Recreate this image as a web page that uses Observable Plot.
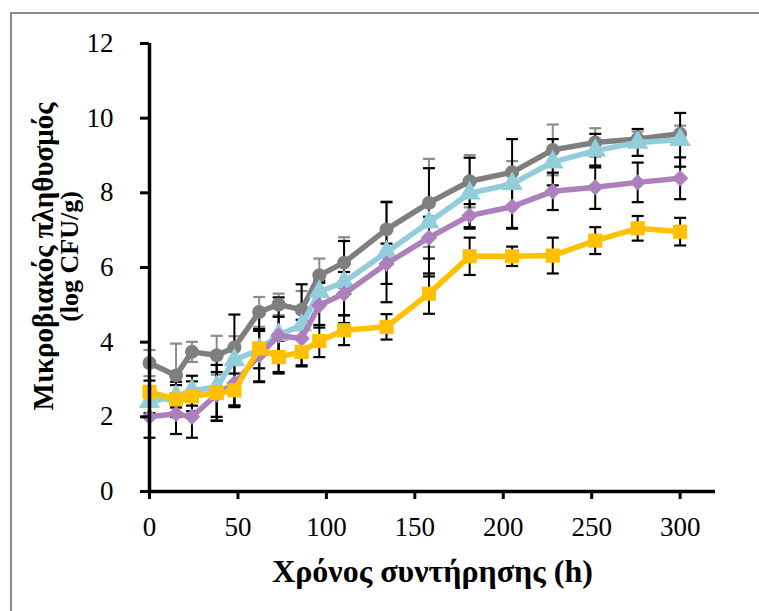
<!DOCTYPE html>
<html>
<head>
<meta charset="utf-8">
<script src="https://cdn.jsdelivr.net/npm/d3@7"></script>
<script src="https://cdn.jsdelivr.net/npm/@observablehq/plot@0.6"></script>
<style>
  html, body { margin: 0; padding: 0; background: #fff; }
  #wrap { position: relative; width: 759px; height: 611px; overflow: hidden; }
  #frame { position: absolute; left: 10px; top: 12px; width: 760px; height: 620px;
           border-top: 2px solid #8c8c8c; border-left: 2px solid #8c8c8c; pointer-events: none; }
  svg text { font-family: "Liberation Serif" !important; font-variant-numeric: normal !important; }
</style>
</head>
<body>
<div id="wrap"><div id="frame"></div></div>
<script>
// Storage time (h)
const hours = [0, 15, 24, 38, 48, 62, 73, 86, 96, 110, 134, 158, 181, 205, 228, 252, 276, 300];

// Series means (log CFU/g)
const grayMean   = [3.44, 3.11, 3.74, 3.65, 3.86, 4.81, 5.01, 4.87, 5.79, 6.13, 7.02, 7.73, 8.31, 8.55, 9.15, 9.35, 9.44, 9.58];
const blueMean   = [2.40, 2.55, 2.70, 2.80, 3.52, 3.80, 4.20, 4.45, 5.35, 5.61, 6.41, 7.21, 7.99, 8.24, 8.82, 9.13, 9.35, 9.42];
const purpleMean = [2.00, 2.08, 2.00, 2.60, 2.90, 3.65, 4.18, 4.10, 4.99, 5.30, 6.10, 6.80, 7.39, 7.63, 8.04, 8.15, 8.28, 8.39];
const yellowMean = [2.67, 2.47, 2.55, 2.64, 2.71, 3.83, 3.60, 3.74, 4.03, 4.32, 4.41, 5.30, 6.30, 6.30, 6.32, 6.72, 7.05, 6.96];

// Error bar half-lengths (±)
const grayErr   = [0.35, 0.85, 0.27, 0.52, 0.30, 0.40, 0.29, 0.50, 0.45, 0.68, 0.75, 1.18, 0.70, 0.30, 0.68, 0.38, 0.20, 0.22];
const blueErr   = [0.30, 0.30, 0.40, 0.90, 1.22, 0.50, 1.00, 1.10, 0.30, 1.10, 1.34, 1.45, 0.95, 1.20, 0.62, 0.45, 0.36, 0.72];
const purpleErr = [0.56, 0.54, 0.56, 0.60, 0.60, 0.70, 0.50, 0.50, 0.60, 0.58, 0.54, 0.56, 0.31, 0.57, 0.50, 0.58, 0.53, 0.56];
const yellowErr = [0.30, 0.47, 0.40, 0.75, 0.45, 0.90, 0.44, 0.36, 0.43, 0.40, 0.34, 0.54, 0.50, 0.26, 0.48, 0.36, 0.33, 0.37];

const xTicks = [0, 50, 100, 150, 200, 250, 300];
const yTicks = [0, 2, 4, 6, 8, 10, 12];
const xTitle = "Χρόνος συντήρησης (h)";
const yTitle1 = "Μικροβιακός πληθυσμός";
const yTitle2 = "(log CFU/g)";

const FONT = "Liberation Serif";

const styles = [
  {mean: grayMean,   err: grayErr,   color: "#7f7f7f", errColor: "#8c8c8c", symbol: "circle",   r: 7},
  {mean: blueMean,   err: blueErr,   color: "#92cddc", errColor: "#000",    symbol: "triangle", r: 8},
  {mean: purpleMean, err: purpleErr, color: "#ad80bd", errColor: "#000",    symbol: "diamond2", r: 7.4},
  {mean: yellowMean, err: yellowErr, color: "#ffc000", errColor: "#000",    symbol: "square",   r: 8}
];

const capSymbol = {
  draw(context, size) {
    const w = 6;
    context.moveTo(-w, 0);
    context.lineTo(w, 0);
  }
};

const rows = s => hours.map((h, i) => ({x: h, y: s.mean[i], lo: s.mean[i] - s.err[i], hi: s.mean[i] + s.err[i]}));

const marks = [];
for (const s of styles) {
  const d = rows(s);
  marks.push(Plot.ruleX(d, {x: "x", y1: "lo", y2: "hi", stroke: s.errColor, strokeWidth: 2}));
  marks.push(Plot.dot(d, {x: "x", y: "hi", symbol: capSymbol, stroke: s.errColor, strokeWidth: 2.2, fill: "none", r: 3}));
  marks.push(Plot.dot(d, {x: "x", y: "lo", symbol: capSymbol, stroke: s.errColor, strokeWidth: 2.2, fill: "none", r: 3}));
}
for (const s of styles) {
  const d = rows(s);
  marks.push(Plot.line(d, {x: "x", y: "y", stroke: s.color, strokeWidth: 5.5, strokeLinejoin: "round"}));
  marks.push(Plot.dot(d, {x: "x", y: "y", symbol: s.symbol, fill: s.color, stroke: "none", r: s.r}));
}

marks.push(Plot.axisY({ticks: yTicks, tickSize: 9, tickPadding: 27, strokeWidth: 3, fontSize: 27, fontFamily: FONT, tickFormat: d => String(d), label: null}));
marks.push(Plot.axisX({ticks: xTicks, tickSize: 8, tickPadding: 17, strokeWidth: 3, fontSize: 27, fontFamily: FONT, tickFormat: d => String(d), label: null}));
marks.push(Plot.ruleY([0], {stroke: "#000", strokeWidth: 3.5}));
marks.push(Plot.ruleX([0], {y1: 0, y2: 12, stroke: "#000", strokeWidth: 3.5}));

marks.push(Plot.text([xTitle], {text: d => d, frameAnchor: "bottom", textAnchor: "middle", dy: 90, fontSize: 32, fontWeight: "bold", fontFamily: FONT}));
marks.push(Plot.text([yTitle1], {text: d => d, frameAnchor: "left", textAnchor: "middle", dx: -106, dy: -11, rotate: -90, fontSize: 29, fontWeight: "bold", fontFamily: FONT}));
marks.push(Plot.text([yTitle2], {text: d => d, frameAnchor: "left", textAnchor: "middle", dx: -80, dy: -11, rotate: -90, fontSize: 26, fontWeight: "bold", fontFamily: FONT}));

const chart = Plot.plot({
  width: 759,
  height: 611,
  marginLeft: 149,
  marginRight: 44,
  marginTop: 43,
  marginBottom: 120,
  style: {fontFamily: FONT, color: "#000", background: "transparent", overflow: "visible"},
  x: {domain: [0, 320]},
  y: {domain: [0, 12]},
  marks
});
document.getElementById("wrap").prepend(chart);
</script>
</body>
</html>
